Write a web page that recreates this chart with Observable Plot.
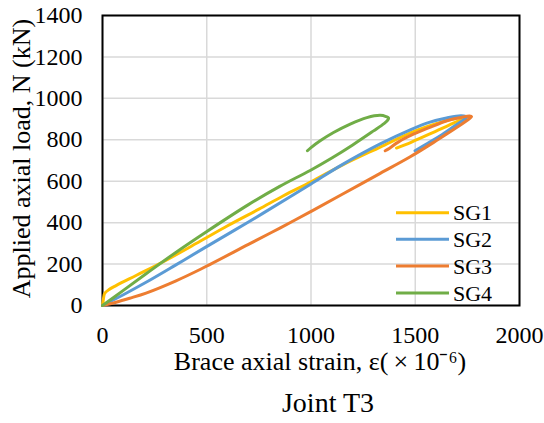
<!DOCTYPE html>
<html>
<head>
<meta charset="utf-8">
<script src="https://cdn.jsdelivr.net/npm/d3@7"></script>
<script src="https://cdn.jsdelivr.net/npm/@observablehq/plot@0.6"></script>
<style>
  html, body { margin: 0; padding: 0; background: #fff; }
  svg, svg text { font-family: "Liberation Serif", "Times New Roman", serif !important; }
</style>
</head>
<body>
<div id="chart"></div>
<script>
const seriesNames = ["SG1", "SG2", "SG3", "SG4"];
const seriesColors = ["#FFC000", "#5B9BD5", "#ED7D31", "#70AD47"];
const xTicks = [0, 500, 1000, 1500, 2000];
const yTicks = [0, 200, 400, 600, 800, 1000, 1200, 1400];

const sg1Strain = [0, 3, 6, 10, 30, 65, 161, 289, 468, 600, 750, 868, 1000, 1150, 1332, 1480, 1600, 1690, 1745, 1735, 1660, 1570, 1480, 1410];
const sg1Load   = [0, 20, 42, 58, 76, 96, 145, 210, 310, 385, 465, 530, 597, 678, 765, 835, 878, 903, 913, 905, 870, 828, 788, 760];

const sg2Strain = [0, 100, 209, 350, 497, 700, 900, 1000, 1150, 1332, 1476, 1571, 1650, 1720, 1748, 1730, 1690, 1620, 1560, 1499];
const sg2Load   = [0, 52, 112, 195, 283, 403, 525, 587, 680, 780, 848, 885, 905, 916, 910, 895, 868, 819, 783, 747];

const sg3Strain = [0, 65, 130, 209, 350, 470, 700, 853, 996, 1150, 1332, 1476, 1600, 1700, 1763, 1770, 1760, 1720, 1652, 1570, 1491, 1420, 1370, 1356];
const sg3Load   = [0, 16, 35, 60, 118, 175, 295, 375, 452, 537, 638, 718, 795, 860, 905, 912, 915, 908, 892, 860, 827, 790, 755, 747];

const sg4Strain = [0, 100, 209, 350, 497, 700, 850, 996, 1100, 1200, 1300, 1350, 1368, 1372, 1360, 1332, 1268, 1188, 1108, 1044, 1000, 983];
const sg4Load   = [0, 73, 153, 255, 355, 487, 575, 652, 712, 775, 843, 878, 895, 905, 912, 918, 907, 876, 835, 795, 762, 747];

const strains = [sg1Strain, sg2Strain, sg3Strain, sg4Strain];
const loads = [sg1Load, sg2Load, sg3Load, sg4Load];

const rows = [];
seriesNames.forEach((name, i) => {
  strains[i].forEach((s, j) => rows.push({series: name, strain: s, load: loads[i][j]}));
});

const font = '"Liberation Serif", "Times New Roman", serif';

const chart = Plot.plot({
  width: 544,
  height: 423,
  marginLeft: 102,
  marginRight: 25,
  marginTop: 15,
  marginBottom: 118,
  style: {fontFamily: font, background: "#fff", color: "#000"},
  x: {domain: [0, 2000], ticks: xTicks},
  y: {domain: [0, 1400], ticks: yTicks},
  color: {domain: seriesNames, range: seriesColors},
  marks: [
    Plot.gridX(xTicks, {stroke: "#d9d9d9", strokeOpacity: 1, strokeWidth: 1.5}),
    Plot.gridY(yTicks, {stroke: "#d9d9d9", strokeOpacity: 1, strokeWidth: 1.5}),
    Plot.frame({stroke: "#000", strokeWidth: 2}),
    Plot.axisX(xTicks, {tickSize: 0, tickPadding: 20, fontSize: 24, fontFamily: font, tickFormat: d => String(d), label: null}),
    Plot.axisY(yTicks, {tickSize: 0, tickPadding: 20, fontSize: 24, fontFamily: font, tickFormat: d => String(d), label: null}),
    Plot.line(rows, {x: "strain", y: "load", z: "series", stroke: "series", strokeWidth: 3, curve: "catmull-rom", strokeLinejoin: "round", strokeLinecap: "round"}),
    Plot.text(["Brace axial strain, ε(\u2009×\u200910⁻⁶)"], {frameAnchor: "bottom", textAnchor: "middle", dx: 9, dy: 56, fontSize: 26, fontFamily: font, lineAnchor: "middle", fill: "#000"}),
    Plot.text(["Applied axial load, N (kN)"], {frameAnchor: "left", textAnchor: "middle", rotate: -90, dx: -81, dy: -2, fontSize: 26, fontFamily: font, lineAnchor: "middle", fill: "#000"}),
    Plot.text(["Joint T3"], {frameAnchor: "bottom", textAnchor: "middle", dx: 17, dy: 98, fontSize: 28, fontFamily: font, lineAnchor: "middle", fill: "#000"})
  ]
});

// Legend
const svg = d3.select(chart);
const legend = svg.append("g").attr("font-family", font).attr("font-size", 22).attr("text-anchor", "start");
const legendY = [212.7, 239.3, 266, 293];
seriesNames.forEach((name, i) => {
  legend.append("line")
    .attr("x1", 396).attr("x2", 449)
    .attr("y1", legendY[i]).attr("y2", legendY[i])
    .attr("stroke", seriesColors[i]).attr("stroke-width", 3);
  legend.append("text")
    .attr("x", 453).attr("y", legendY[i]).attr("dy", "0.35em")
    .attr("text-anchor", "start")
    .attr("fill", "#000").text(name);
});

document.getElementById("chart").appendChild(chart);
</script>
</body>
</html>
